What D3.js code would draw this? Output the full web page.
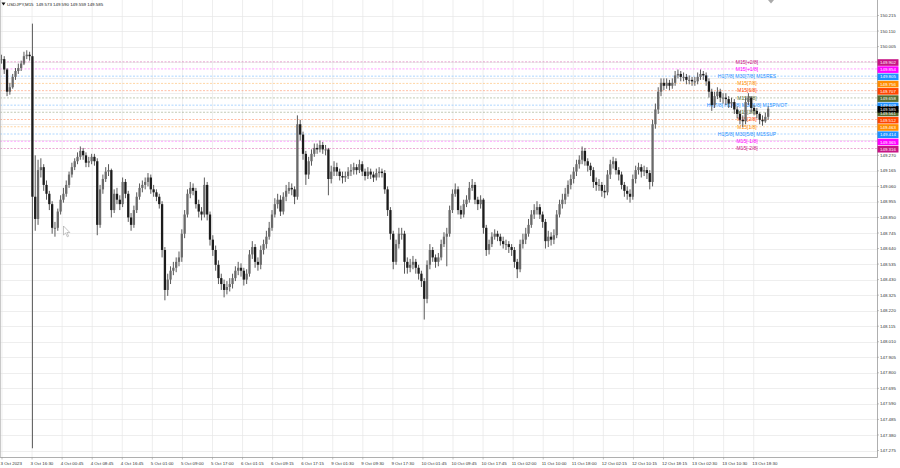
<!DOCTYPE html>
<html><head><meta charset="utf-8">
<script src="https://cdn.jsdelivr.net/npm/d3@7"></script>
<style>html,body{margin:0;padding:0;background:#fff;}svg{display:block;font-family:"Liberation Sans",Arial,sans-serif;}</style>
</head><body><svg id="c" width="900" height="468"></svg>
<script>
const symbol = "USDJPY,M15";
const headerValues = ["149.573", "149.590", "149.559", "149.585"];

const closes = [
149.92,149.85,149.70,149.73,149.80,149.84,149.86,149.89,149.94,149.95,
149.94,148.99,148.84,149.17,149.19,149.07,149.01,148.94,148.78,148.78,
148.89,148.97,149.01,149.07,149.14,149.19,149.23,149.26,149.30,149.27,
149.22,149.23,149.26,149.23,148.80,149.04,149.11,149.16,149.17,148.90,
149.01,148.97,148.94,149.09,149.01,148.85,148.80,148.90,148.99,149.05,
149.07,149.09,149.12,149.04,149.02,148.99,148.94,148.63,148.36,148.43,
148.49,148.51,148.55,148.58,148.74,148.87,149.01,149.05,149.03,148.94,
148.89,148.87,149.07,148.87,148.70,148.63,148.53,148.44,148.40,148.36,
148.38,148.40,148.44,148.49,148.51,148.49,148.43,148.47,148.60,148.65,
148.55,148.53,148.63,148.67,148.72,148.78,148.87,148.94,148.97,148.89,
148.99,149.03,149.05,149.04,148.99,149.48,149.41,149.28,149.14,149.23,
149.28,149.32,149.31,149.34,149.31,149.31,149.11,149.16,149.19,149.16,
149.13,149.12,149.13,149.16,149.17,149.19,149.17,149.21,149.16,149.13,
149.16,149.14,149.12,149.15,149.16,149.15,149.04,148.90,148.74,148.55,
148.67,148.74,148.74,148.55,148.51,148.53,148.55,148.51,148.47,148.42,
148.30,148.53,148.63,148.58,148.55,148.58,148.67,148.72,148.74,148.90,
149.01,149.04,148.90,148.87,148.94,148.97,149.05,149.07,148.97,148.94,
148.97,148.78,148.63,148.67,148.72,148.74,148.72,148.69,148.67,148.67,
148.65,148.63,148.55,148.50,148.67,148.70,148.74,148.80,148.87,148.90,
148.92,148.87,148.82,148.69,148.72,148.70,148.73,148.87,148.94,148.97,
149.01,149.07,149.11,149.16,149.21,149.24,149.30,149.23,149.20,149.17,
149.09,149.07,149.07,149.03,149.02,149.14,149.21,149.23,149.17,149.14,
149.07,149.03,149.01,148.99,149.11,149.17,149.19,149.16,149.17,149.15,
149.09,149.48,149.58,149.70,149.76,149.74,149.76,149.74,149.76,149.81,
149.82,149.80,149.80,149.78,149.78,149.77,149.77,149.80,149.82,149.81,
149.77,149.70,149.61,149.67,149.70,149.66,149.66,149.65,149.62,149.63,
149.58,149.55,149.51,149.50,149.63,149.66,149.59,149.57,149.55,149.51,
149.50,149.53,149.585];

const highs = [
149.95,149.94,149.86,149.76,149.82,149.86,149.89,149.91,149.97,149.98,
149.97,150.16,149.27,149.24,149.25,149.21,149.10,149.03,148.96,148.82,
148.91,149.00,149.05,149.10,149.16,149.22,149.25,149.29,149.33,149.32,
149.29,149.26,149.28,149.28,149.25,149.07,149.14,149.19,149.21,149.18,
149.04,149.05,149.00,149.12,149.11,149.03,148.88,148.93,149.02,149.08,
149.10,149.12,149.15,149.14,149.07,149.04,149.01,148.96,148.65,148.47,
148.52,148.55,148.58,148.62,148.77,148.90,149.04,149.09,149.08,149.05,
148.97,148.92,149.12,149.09,148.89,148.73,148.66,148.56,148.47,148.43,
148.42,148.44,148.47,148.52,148.55,148.54,148.51,148.50,148.63,148.69,
148.67,148.58,148.66,148.70,148.76,148.82,148.90,148.98,149.01,149.00,
149.02,149.07,149.09,149.08,149.06,149.54,149.51,149.43,149.30,149.26,
149.31,149.35,149.35,149.37,149.36,149.34,149.32,149.20,149.23,149.22,
149.18,149.16,149.16,149.19,149.21,149.22,149.21,149.24,149.23,149.18,
149.19,149.18,149.16,149.18,149.19,149.18,149.17,149.06,148.92,148.76,
148.70,148.78,148.78,148.76,148.58,148.57,148.59,148.57,148.53,148.49,
148.44,148.56,148.67,148.65,148.60,148.61,148.70,148.75,148.78,148.93,
149.04,149.08,149.06,148.93,148.97,149.00,149.09,149.11,149.09,148.99,
149.00,148.98,148.80,148.70,148.75,148.77,148.76,148.74,148.72,148.70,
148.69,148.67,148.65,148.57,148.70,148.74,148.78,148.84,148.90,148.94,
148.96,148.94,148.89,148.84,148.76,148.75,148.77,148.90,148.97,149.01,
149.05,149.10,149.14,149.19,149.24,149.27,149.33,149.32,149.25,149.22,
149.19,149.12,149.11,149.09,149.07,149.17,149.24,149.26,149.25,149.19,
149.16,149.09,149.06,149.04,149.14,149.20,149.22,149.21,149.20,149.19,
149.17,149.51,149.62,149.73,149.79,149.79,149.79,149.78,149.79,149.84,
149.85,149.84,149.83,149.82,149.81,149.80,149.80,149.83,149.85,149.84,
149.83,149.79,149.72,149.70,149.73,149.72,149.69,149.69,149.67,149.66,
149.65,149.60,149.57,149.54,149.66,149.69,149.67,149.61,149.59,149.56,
149.54,149.56,149.60];

const lows = [
149.89,149.82,149.67,149.68,149.72,149.78,149.82,149.84,149.88,149.92,
149.91,147.29,148.76,148.80,149.12,149.03,148.97,148.90,148.74,148.72,
148.76,148.87,148.95,148.99,149.05,149.12,149.17,149.21,149.24,149.24,
149.19,149.19,149.21,149.20,148.73,148.78,149.01,149.09,149.13,148.85,
148.88,148.94,148.90,148.92,148.98,148.82,148.76,148.78,148.88,148.97,
149.02,149.04,149.06,149.01,148.99,148.96,148.91,148.58,148.29,148.32,
148.40,148.46,148.48,148.52,148.55,148.71,148.85,148.98,149.00,148.91,
148.85,148.83,148.85,148.83,148.66,148.59,148.49,148.40,148.36,148.31,
148.33,148.35,148.37,148.42,148.46,148.45,148.39,148.40,148.45,148.57,
148.51,148.49,148.50,148.60,148.64,148.70,148.76,148.85,148.91,148.86,
148.87,148.96,149.01,149.00,148.94,148.97,149.37,149.24,149.07,149.11,
149.20,149.26,149.28,149.29,149.28,149.27,149.00,149.08,149.13,149.13,
149.10,149.08,149.09,149.11,149.13,149.14,149.14,149.15,149.13,149.10,
149.11,149.11,149.09,149.10,149.12,149.12,149.01,148.86,148.70,148.50,
148.53,148.64,148.70,148.47,148.47,148.48,148.50,148.47,148.43,148.38,
148.16,148.27,148.50,148.55,148.51,148.52,148.56,148.65,148.52,148.72,
148.88,148.99,148.87,148.84,148.85,148.92,148.95,149.03,148.94,148.90,
148.91,148.74,148.59,148.60,148.65,148.70,148.69,148.66,148.64,148.63,
148.61,148.59,148.51,148.44,148.48,148.64,148.67,148.72,148.78,148.84,
148.87,148.84,148.78,148.64,148.65,148.66,148.67,148.71,148.85,148.91,
148.94,148.99,149.04,149.08,149.13,149.18,149.21,149.20,149.16,149.13,
149.05,149.03,149.03,148.99,148.98,149.00,149.11,149.18,149.14,149.10,
149.04,148.99,148.97,148.95,148.97,149.08,149.14,149.12,149.13,149.11,
149.04,149.06,149.45,149.55,149.67,149.71,149.72,149.71,149.72,149.74,
149.79,149.77,149.77,149.75,149.75,149.74,149.74,149.75,149.78,149.78,
149.74,149.66,149.57,149.59,149.65,149.63,149.62,149.61,149.59,149.59,
149.55,149.52,149.48,149.46,149.48,149.61,149.56,149.54,149.52,149.48,
149.47,149.49,149.51];

const slotsPerCandle = 3;   // each drawn candle spans three M15 slots
const slotsPerLabel = 32;
const timeLabels = ["3 Oct 2023","3 Oct 16:30","4 Oct 00:45","4 Oct 08:45","4 Oct 16:45","5 Oct 01:00","5 Oct 09:00","5 Oct 17:00","6 Oct 01:15","6 Oct 09:15","6 Oct 17:15","9 Oct 01:30","9 Oct 09:30","9 Oct 17:30","10 Oct 01:45","10 Oct 09:45","10 Oct 17:45","11 Oct 02:00","11 Oct 10:00","11 Oct 18:00","12 Oct 02:15","12 Oct 10:15","12 Oct 18:15","13 Oct 02:30","13 Oct 10:30","13 Oct 18:30"];

const yTicks = [150.215,150.110,150.005,149.900,149.795,149.690,149.585,149.480,149.375,149.270,149.165,149.060,148.955,148.850,148.745,148.640,148.535,148.430,148.325,148.220,148.115,148.010,147.905,147.800,147.695,147.590,147.485,147.380,147.275];

const levelPrices = [149.902,149.854,149.805,149.756,149.707,149.658,149.609,149.561,149.512,149.463,149.414,149.365,149.316];
const levelNames = ["M15[+2/8]","M15[+1/8]","H1[7/8] M30[7/8] M15RES","M15[7/8]","M15[6/8]","M15[5/8]","H4[7/8] H1[6/8] M30[6/8] M15PIVOT","M15[3/8]","M15[2/8]","M15[1/8]","H1[5/8] M30[5/8] M15SUP","M15[-1/8]","M15[-2/8]"];
const levelColors = ["#c71585","#ff00ff","#1e90ff","#ff8c00","#ff4500","#556b2f","#1e90ff","#556b2f","#ff4500","#ff8c00","#1e90ff","#ff00ff","#c71585"];
const currentPrice = 149.585;

const svg = d3.select("#c");
const W = 900, H = 468;
const plotR = 877, plotB = 457.5;

const x = d3.scaleLinear().domain([0, 800]).range([0, 751.7]);
const y = d3.scaleLinear().domain([147.275, 150.215]).range([450.5, 15.5]);

svg.append("rect").attr("width", W).attr("height", H).attr("fill", "#fff");

// grid
const grid = svg.append("g");
grid.selectAll("line.h").data(yTicks).join("line")
  .attr("x1", 0).attr("x2", plotR).attr("y1", d => Math.round(y(d)) + 0.5).attr("y2", d => Math.round(y(d)) + 0.5)
  .attr("stroke", "#e6e6e6").attr("stroke-width", 0.7);
grid.selectAll("line.v").data(timeLabels).join("line")
  .attr("x1", (d, i) => x(i * slotsPerLabel) + 2).attr("x2", (d, i) => x(i * slotsPerLabel) + 2)
  .attr("y1", 0).attr("y2", plotB)
  .attr("stroke", "#e6e6e6").attr("stroke-width", 0.7);

// level lines
const lv = svg.append("g");
lv.selectAll("line").data(levelPrices).join("line")
  .attr("x1", 0).attr("x2", plotR).attr("y1", d => y(d)).attr("y2", d => y(d))
  .attr("stroke", (d, i) => levelColors[i]).attr("stroke-opacity", 0.45)
  .attr("stroke-width", 0.8).attr("stroke-dasharray", "2,1.5");

// candles
const candles = closes.map((c, i) => ({
  i, o: i === 0 ? c : closes[i - 1], c, h: highs[i], l: lows[i]
}));
const cg = svg.append("g");
cg.selectAll("line").data(candles).join("line")
  .attr("x1", d => x(d.i * slotsPerCandle + 1.5)).attr("x2", d => x(d.i * slotsPerCandle + 1.5))
  .attr("y1", d => y(d.h)).attr("y2", d => y(d.l))
  .attr("stroke", "#5a5a5a").attr("stroke-width", 1);
cg.selectAll("rect").data(candles).join("rect")
  .attr("x", d => x(d.i * slotsPerCandle + 1.5) - 1.15)
  .attr("width", 2.3)
  .attr("y", d => y(Math.max(d.o, d.c)))
  .attr("height", d => Math.max(1, Math.abs(y(d.o) - y(d.c))))
  .attr("fill", d => d.c >= d.o ? "#6a6a6a" : "#1c1c1c");

// level texts on chart
lv.selectAll("text").data(levelPrices).join("text")
  .attr("x", 747).attr("y", d => y(d)).attr("dy", "0.35em")
  .attr("text-anchor", "middle").attr("font-size", 5)
  .attr("fill", (d, i) => levelColors[i])
  .text((d, i) => levelNames[i]);

// axes frame
svg.append("line").attr("x1", plotR + 0.5).attr("x2", plotR + 0.5).attr("y1", 0).attr("y2", plotB)
  .attr("stroke", "#9a9a9a").attr("stroke-width", 0.8);
svg.append("line").attr("x1", 0).attr("x2", plotR + 0.5).attr("y1", plotB).attr("y2", plotB)
  .attr("stroke", "#9a9a9a").attr("stroke-width", 0.8);
svg.append("line").attr("x1", 0.5).attr("x2", 0.5).attr("y1", 0).attr("y2", plotB)
  .attr("stroke", "#bbb").attr("stroke-width", 0.8);

// y tick labels (hidden where level boxes sit)
const lvMin = d3.min(levelPrices) - 0.03, lvMax = d3.max(levelPrices) + 0.03;
const yAx = svg.append("g").attr("font-size", 4.4).attr("fill", "#333");
yAx.selectAll("line").data(yTicks).join("line")
  .attr("x1", plotR).attr("x2", plotR + 2).attr("y1", d => y(d)).attr("y2", d => y(d))
  .attr("stroke", "#9a9a9a").attr("stroke-width", 0.6);
yAx.selectAll("text").data(yTicks.filter(t => t < lvMin || t > lvMax)).join("text")
  .attr("x", 880).attr("y", d => y(d)).attr("dy", "0.35em")
  .text(d => d.toFixed(3));

// x tick labels
const xAx = svg.append("g").attr("font-size", 4.4).attr("fill", "#333");
xAx.selectAll("line").data(timeLabels).join("line")
  .attr("x1", (d, i) => x(i * slotsPerLabel) + 2).attr("x2", (d, i) => x(i * slotsPerLabel) + 2)
  .attr("y1", plotB).attr("y2", plotB + 2)
  .attr("stroke", "#9a9a9a").attr("stroke-width", 0.6);
xAx.selectAll("text").data(timeLabels).join("text")
  .attr("x", (d, i) => x(i * slotsPerLabel) + 0.5).attr("y", 465)
  .text(d => d);

// level price boxes
const bx = svg.append("g");
const boxes = levelPrices.map((p, i) => ({ p, col: levelColors[i] })).concat([{ p: currentPrice, col: "#000" }]);
bx.selectAll("rect").data(boxes).join("rect")
  .attr("x", 877.5).attr("width", 21).attr("y", d => y(d.p) - 2.6).attr("height", 6.6)
  .attr("fill", d => d.col);
bx.selectAll("text").data(boxes).join("text")
  .attr("x", 880).attr("y", d => y(d.p) + 0.7).attr("dy", "0.35em")
  .attr("font-size", 4.4).attr("fill", "#fff")
  .text(d => d.p.toFixed(3));

// header
svg.append("path").attr("d", "M1.5,2.5 L5.5,2.5 L3.5,5.5 Z").attr("fill", "#111");
svg.append("text").attr("x", 7).attr("y", 5.8).attr("font-size", 4.4).attr("fill", "#222")
  .attr("xml:space", "preserve")
  .text(symbol + "  " + headerValues.join(" "));

// chart shift marker
svg.append("path").attr("d", "M768,0 L774,0 L771,3.5 Z").attr("fill", "#aaa");

// mouse cursor
svg.append("path").attr("d", "M63.5,226 L63.5,235 L65.6,233 L67.3,236.8 L68.6,236.2 L66.9,232.5 L69.8,232.5 Z")
  .attr("fill", "#fff").attr("stroke", "#888").attr("stroke-width", 0.5);
</script></body></html>
